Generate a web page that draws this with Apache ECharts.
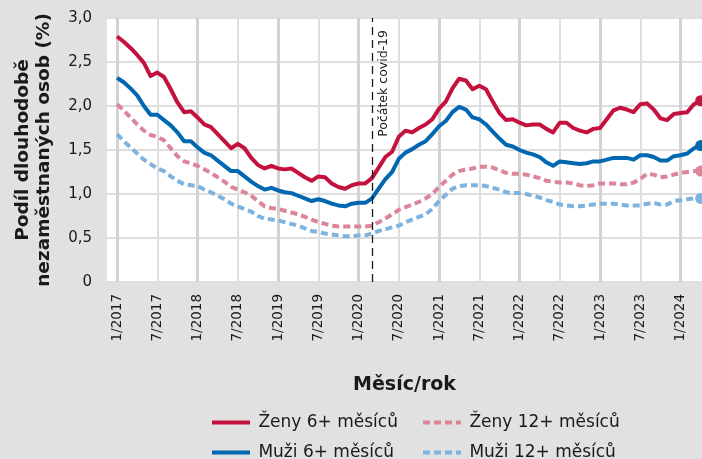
<!DOCTYPE html>
<html><head><meta charset="utf-8">
<script src="https://cdn.jsdelivr.net/npm/echarts@6/dist/echarts.min.js"></script>
<style>html,body{margin:0;padding:0;background:#e1e1e1}#c{width:702px;height:459px}</style>
</head><body><div id="c"></div>
<script>
const FONT = '"DejaVu Sans", "Noto Sans", sans-serif';
// month index 0 = 1/2017
const tickMonths = [0, 6, 12, 18, 24, 30, 36, 42, 48, 54, 60, 66, 72, 78, 84];
const tickLabels = ['1/2017','7/2017','1/2018','7/2018','1/2019','7/2019','1/2020','7/2020','1/2021','7/2021','1/2022','7/2022','1/2023','7/2023','1/2024'];
const yearStartMonths = [0, 12, 24, 36, 48, 60, 72, 84];
const covidMonth = 38; // 3/2020
const covidLabel = 'Počátek covid-19';
const yTicks = ['0','0,5','1,0','1,5','2,0','2,5','3,0'];

const names = ['Ženy 6+ měsíců', 'Muži 6+ měsíců', 'Ženy 12+ měsíců', 'Muži 12+ měsíců'];

const zeny6 = [2.79,2.73,2.66,2.58,2.49,2.34,2.38,2.33,2.19,2.04,1.93,1.94,1.87,1.79,1.76,1.68,1.60,1.52,1.57,1.52,1.41,1.33,
  1.29,1.32,1.29,1.28,1.29,1.24,1.19,1.15,1.20,1.19,1.12,1.08,1.06,1.10,1.12,1.12,1.18,1.30,1.42,1.48,1.65,
  1.72,1.70,1.75,1.79,1.85,1.97,2.05,2.20,2.31,2.29,2.19,2.23,2.19,2.05,1.92,1.84,1.85,1.81,1.78,1.79,1.79,1.74,
  1.70,1.81,1.81,1.75,1.72,1.70,1.74,1.75,1.85,1.95,1.98,1.96,1.93,2.02,2.03,1.96,1.86,1.84,1.91,1.92,1.93,2.02,2.06];
const muzi6 = [2.32,2.27,2.20,2.12,2.00,1.90,1.90,1.84,1.78,1.70,1.60,1.60,1.53,1.47,1.44,1.38,1.32,1.26,1.26,1.20,1.14,1.09,
  1.05,1.07,1.04,1.02,1.01,0.98,0.95,0.92,0.94,0.92,0.89,0.87,0.86,0.89,0.90,0.90,0.95,1.06,1.17,1.25,1.40,
  1.47,1.51,1.56,1.60,1.68,1.77,1.83,1.93,1.99,1.96,1.87,1.85,1.79,1.71,1.63,1.56,1.54,1.50,1.47,1.45,1.42,1.36,
  1.32,1.37,1.36,1.35,1.34,1.35,1.37,1.37,1.39,1.41,1.41,1.41,1.39,1.44,1.44,1.42,1.38,1.38,1.43,1.44,1.46,1.52,1.55];
const zeny12 = [2.02,1.95,1.87,1.79,1.72,1.67,1.65,1.61,1.52,1.43,1.37,1.35,1.32,1.28,1.24,1.19,1.14,1.08,1.05,1.02,0.98,0.92,
  0.86,0.84,0.83,0.81,0.79,0.77,0.74,0.71,0.68,0.66,0.64,0.63,0.63,0.63,0.63,0.63,0.64,0.68,0.72,0.77,0.82,
  0.85,0.88,0.91,0.95,1.00,1.08,1.15,1.22,1.26,1.28,1.29,1.31,1.31,1.30,1.27,1.24,1.23,1.23,1.22,1.20,1.18,1.15,
  1.14,1.13,1.13,1.12,1.10,1.09,1.10,1.12,1.12,1.12,1.11,1.11,1.13,1.17,1.23,1.22,1.19,1.20,1.22,1.24,1.25,1.26,1.26];
const muzi12 = [1.68,1.60,1.53,1.46,1.39,1.34,1.29,1.26,1.20,1.15,1.11,1.10,1.09,1.05,1.02,0.98,0.94,0.89,0.86,0.83,0.80,0.75,
  0.72,0.71,0.70,0.68,0.66,0.64,0.61,0.58,0.57,0.55,0.54,0.53,0.52,0.52,0.53,0.53,0.55,0.58,0.60,0.62,0.64,
  0.68,0.71,0.74,0.77,0.83,0.92,0.99,1.06,1.09,1.10,1.10,1.10,1.09,1.07,1.05,1.02,1.01,1.01,1.00,0.98,0.96,0.93,
  0.91,0.88,0.87,0.86,0.86,0.87,0.88,0.89,0.89,0.89,0.88,0.87,0.87,0.87,0.89,0.90,0.88,0.88,0.92,0.93,0.94,0.95,0.95];

const colors = ['#c3123d', '#0067b1', '#dc8599', '#7db3de'];
const dashed = [false, false, true, true];
const allData = [zeny6, muzi6, zeny12, muzi12];

const lineSeries = allData.map((arr, k) => ({
  name: names[k], type: 'line', data: arr.map((v, i) => [i, v]), symbol: 'none',
  clip: false, z: k < 2 ? 4 : 3,
  lineStyle: {color: colors[k], width: 4, type: dashed[k] ? [7, 4] : 'solid', cap: 'butt', join: 'round'},
  itemStyle: {color: colors[k]},
  emphasis: {disabled: true}
}));
const endSeries = allData.map((arr, k) => ({
  name: names[k] + ' – konec', type: 'scatter', symbol: 'circle', symbolSize: 11, z: k < 2 ? 5 : 4,
  data: [[arr.length - 1, arr[arr.length - 1]]],
  itemStyle: {color: colors[k], opacity: 1}, clip: false, silent: true
}));
lineSeries[0].markLine = {
  symbol: 'none', silent: true, animation: false,
  lineStyle: {color: '#1a1a1a', width: 1.3, type: [8, 5]},
  label: {show: true, formatter: covidLabel, position: 'insideEndBottom', fontFamily: FONT, fontSize: 12.5, color: '#1a1a1a', distance: [12, 5]},
  data: [{xAxis: covidMonth}]
};

const chart = echarts.init(document.getElementById('c'), null, {renderer: 'canvas'});
const xMin = -1.5, xMax = 87.2;
function makeLegend(items, left) {
  return {
    data: items, orient: 'vertical', left: left, top: 414, height: 90, padding: 0,
    itemWidth: 38, itemHeight: 14, itemGap: 13, selectedMode: false,
    itemStyle: {opacity: 0},
    lineStyle: {width: 4},
    formatter: n => '\u2009' + n,
    textStyle: {fontFamily: FONT, fontSize: 17, color: '#1a1a1a'}
  };
}
chart.setOption({
  backgroundColor: '#e1e1e1',
  animation: false,
  textStyle: {fontFamily: FONT},
  grid: {left: 107, top: 18, right: 0, bottom: 177, show: true, backgroundColor: '#ffffff', borderWidth: 0},
  legend: [makeLegend([names[0], names[1]], 210), makeLegend([names[2], names[3]], 421)],
  xAxis: [
    {type: 'value', min: xMin, max: xMax, position: 'bottom',
     name: 'Měsíc/rok', nameLocation: 'middle', nameGap: 94,
     nameTextStyle: {fontFamily: FONT, fontSize: 19, fontWeight: 'bold', color: '#1a1a1a'},
     axisLine: {show: false}, axisTick: {show: false, customValues: tickMonths},
     axisLabel: {customValues: tickMonths, rotate: 90, margin: 12, fontSize: 13.5, color: '#1a1a1a', fontFamily: FONT,
       formatter: v => tickLabels[tickMonths.indexOf(Math.round(v))] || ''},
     splitLine: {show: true, lineStyle: {color: '#dedede', width: 2}}},
    {type: 'value', min: xMin, max: xMax, position: 'bottom', show: true,
     axisLine: {show: false}, axisTick: {show: false, customValues: yearStartMonths},
     axisLabel: {show: false, customValues: yearStartMonths},
     splitLine: {show: true, lineStyle: {color: '#d2d2d2', width: 3}}}
  ],
  yAxis: {type: 'value', min: 0, max: 3, interval: 0.5,
    name: 'Podíl dlouhodobě\nnezaměstnaných osob (%)', nameLocation: 'middle', nameGap: 52,
    nameTextStyle: {fontFamily: FONT, fontSize: 18.5, fontWeight: 'bold', color: '#1a1a1a', lineHeight: 21},
    axisLine: {show: false}, axisTick: {show: false},
    axisLabel: {fontSize: 15, color: '#1a1a1a', margin: 15, fontFamily: FONT, padding: [7, 0, 0, 0],
      formatter: v => yTicks[Math.round(v * 2)]},
    splitLine: {show: true, lineStyle: {color: '#dedede', width: 2}}},
  series: lineSeries.concat(endSeries)
});
</script></body></html>
